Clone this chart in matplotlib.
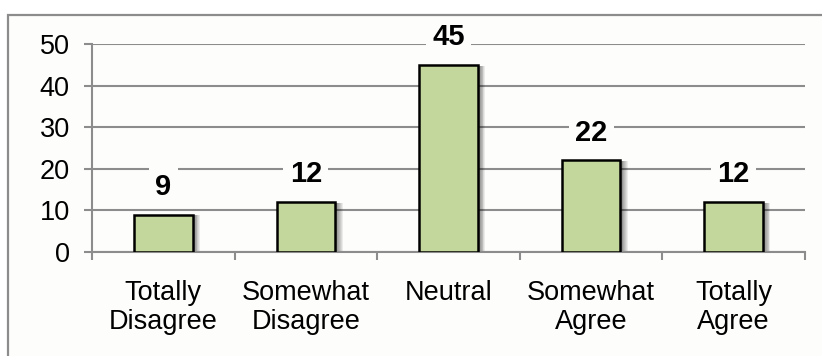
import matplotlib.pyplot as plt
from matplotlib.patches import Rectangle
import numpy as np

plt.rcParams['font.family'] = ['Liberation Sans', 'DejaVu Sans']

categories = ['Totally\nDisagree', 'Somewhat\nDisagree', 'Neutral', 'Somewhat\nAgree', 'Totally\nAgree']
counts = [9, 12, 45, 22, 12]
yticks = [0, 10, 20, 30, 40, 50]

bar_color = '#c3d69b'
grid_color = '#8c8c8c'
bg = '#fdfdfb'

fig = plt.figure(figsize=(8.22, 3.56), dpi=100)
fig.patch.set_facecolor('white')

# outer chart frame
frame = Rectangle((8 / 822, -0.05), 1.1, 0.958 + 0.05, transform=fig.transFigure,
                  facecolor=bg, edgecolor=grid_color, linewidth=1.6, zorder=-5)
fig.patches.append(frame)

ax = fig.add_axes([92 / 822, 1 - 252 / 356, (805 - 92) / 822, (252 - 44) / 356])
ax.set_facecolor('none')

x = np.arange(len(categories))
w = 0.41

# soft drop shadow on the right of each bar
for i, v in zip(x, counts):
    for k in range(8):
        ax.add_patch(Rectangle((i - w / 2 + 0.01 + k * 0.006, -0.4), w, v + 0.2,
                               facecolor='black', edgecolor='none',
                               alpha=0.07, zorder=2))

ax.bar(x, counts, width=w, color=bar_color, edgecolor='black', linewidth=1.8, zorder=3)

for i, v in zip(x, counts):
    ax.annotate(str(v), (i, v), xytext=(0, 20), textcoords='offset points',
                ha='center', va='center', fontsize=21, fontweight='bold',
                bbox=dict(boxstyle='square,pad=0.22', facecolor=bg, edgecolor='none'),
                zorder=5)

ax.set_xlim(-0.5, len(categories) - 0.5)
ax.set_ylim(0, 50)
ax.set_yticks(yticks)
ax.yaxis.grid(True, color=grid_color, linewidth=1.5, zorder=1)
ax.set_axisbelow(True)

ax.set_xticks(x)
ax.set_xticklabels(categories, fontsize=19.5, linespacing=1.15)
ax.set_xticks(np.arange(len(categories) + 1) - 0.5, minor=True)
ax.tick_params(axis='x', which='major', length=0, pad=20)
ax.tick_params(axis='x', which='minor', length=6, width=1.5, color=grid_color, direction='out')
ax.tick_params(axis='y', length=6, width=1.5, color=grid_color, labelsize=19.5, pad=10)

for s in ['top', 'right']:
    ax.spines[s].set_visible(False)
ax.spines['left'].set_color(grid_color)
ax.spines['left'].set_linewidth(1.5)
ax.spines['bottom'].set_color(grid_color)
ax.spines['bottom'].set_linewidth(1.5)

fig.savefig('out.png', dpi=100)
